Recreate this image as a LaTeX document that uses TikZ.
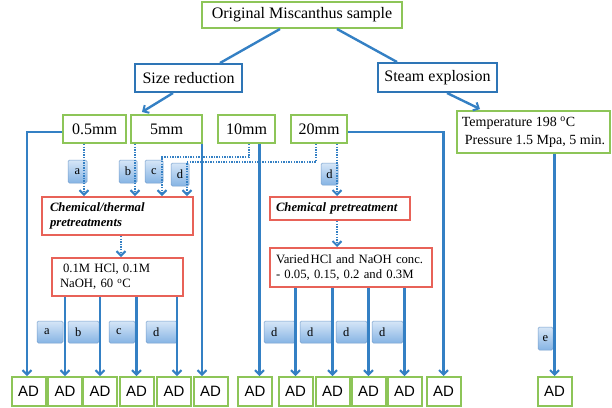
\documentclass[tikz,border=0pt]{standalone}
\usepackage{fontspec}
\setmainfont{Liberation Serif}
\newfontfamily\adfont{Liberation Sans}
\usetikzlibrary{arrows.meta}
\definecolor{gr}{RGB}{141,197,88}
\definecolor{bl}{RGB}{52,128,196}
\definecolor{bbox}{RGB}{46,117,182}
\definecolor{rd}{RGB}{232,98,88}
\definecolor{lbtop}{RGB}{214,230,247}
\definecolor{lbbot}{RGB}{134,180,228}
\definecolor{lbdraw}{RGB}{120,160,205}
\begin{document}
\begin{tikzpicture}[x=1pt,y=-1pt,
  gbox/.style={draw=gr, line width=2pt, fill=white, inner sep=0pt, font=\fontsize{16}{18}\selectfont},
  bbx/.style={draw=bbox, line width=2pt, fill=white, inner sep=0pt, font=\fontsize{16}{18}\selectfont},
  rbox/.style={draw=rd, line width=2pt, fill=white, inner ysep=0pt, align=left},
  adbox/.style={draw=gr, line width=2pt, fill=white, minimum width=34pt, minimum height=29pt, inner sep=0pt, font=\adfont\fontsize{15}{17}\selectfont},
  lab/.style={draw=lbdraw, line width=0.5pt, top color=lbtop, bottom color=lbbot, rounded corners=1.5pt, inner sep=0pt, font=\fontsize{12.5}{14}\selectfont},
  blab/.style={lab, align=left, inner xsep=7pt, text width=#1, minimum height=22pt},
  sline/.style={draw=bl, line width=2.4pt},
  arr/.style={sline, -{Straight Barb[length=4.5pt,width=9pt,line width=2pt]}},
  dline/.style={draw=bl, line width=2.4pt, dash pattern=on 1.4pt off 1.2pt},
  darr/.style={dline, -{Straight Barb[length=4.5pt,width=9pt,line width=2pt]}}
]
\useasboundingbox (0,0) rectangle (612,407);

% top nodes
\node[gbox, minimum width=200pt, minimum height=26pt] (orig) at (302,15) {Original Miscanthus sample};
\node[bbx, minimum width=107pt, minimum height=28pt] (size) at (188.5,78) {Size reduction};
\node[bbx, minimum width=119pt, minimum height=29pt] (steam) at (437.5,77.5) {Steam explosion};
\node[gbox, minimum width=63pt, minimum height=28pt] (mm05) at (94.5,129) {0.5mm};
\node[gbox, minimum width=71pt, minimum height=28pt] (mm5) at (166.5,129) {5mm};
\node[gbox, minimum width=57pt, minimum height=28pt] (mm10) at (246.5,129) {10mm};
\node[gbox, minimum width=56pt, minimum height=28pt] (mm20) at (319,129) {20mm};
\node[gbox, minimum width=153pt, minimum height=42pt, align=left, inner xsep=3pt, font=\fontsize{14}{17.5}\selectfont] (temp) at (533.5,132) {Temperature 198 \textsuperscript{o}C\\\hspace{3pt}Pressure 1.5 Mpa, 5 min.};

% red boxes
\node[rbox, minimum width=151pt, minimum height=38pt, text width=135pt, inner xsep=8pt, font=\fontsize{12.7}{15}\selectfont\bfseries\itshape] (chemth) at (117.5,216) {Chemical/thermal\\pretreatments};
\node[rbox, minimum width=140pt, minimum height=23pt, text width=128pt, inner xsep=6pt, font=\fontsize{12.7}{15}\selectfont\bfseries\itshape] (chemp) at (340,208.5) {Chemical pretreatment};
\node[rbox, minimum width=131pt, minimum height=38pt, text width=115pt, inner xsep=8pt, font=\fontsize{12.7}{15}\selectfont] (hcl) at (117.5,277) {\hspace{3pt}0.1M HCl, 0.1M\\NaOH, 60 \textsuperscript{o}C};
\node[rbox, minimum width=162pt, minimum height=39pt, text width=150pt, inner xsep=6pt, font=\fontsize{12.7}{15}\selectfont] (varied) at (351,267.5) {Varied\hspace{1.5pt}HCl and NaOH conc.\\- 0.05, 0.15, 0.2 and 0.3M};

% AD boxes
\foreach \i/\x in {1/28.5,2/65,3/100,4/136.5,5/174,6/210.5,7/255,8/295.5,9/332.5,10/368.5,11/404.5,12/443.5,13/554.5}
  \node[adbox] (ad\i) at (\x,391.5) {AD};

% labels top
\node[lab, minimum width=19pt, minimum height=23pt] (la) at (77.5,171.5) {a};
\node[lab, minimum width=18pt, minimum height=23pt] (lb) at (128,171.5) {b};
\node[lab, minimum width=18pt, minimum height=23pt] (lc) at (154,171.5) {c};
\node[lab, minimum width=18pt, minimum height=23pt] (ld) at (180,174.5) {d};
\node[lab, minimum width=17pt, minimum height=22pt] (ld20) at (329.5,174) {d};
% labels bottom
\node[blab=12pt] (ba) at (50,332) {a};
\node[blab=17pt] (bb) at (83.5,332) {b};
\node[blab=12pt] (bc) at (122,332) {c};
\node[blab=17pt] (bd) at (161.5,332) {d};
\node[blab=17pt] (bd1) at (279.5,332) {d};
\node[blab=18pt] (bd2) at (316,332) {d};
\node[blab=17pt] (bd3) at (351.5,332) {d};
\node[blab=17pt] (bd4) at (387.5,332) {d};
\node[lab, minimum width=15pt, minimum height=23pt] (le) at (545.5,338.5) {e};

% top connectors
\draw[sline] ([xshift=-22pt]orig.south) -- ([xshift=31.5pt]size.north);
\draw[sline] ([xshift=35pt]orig.south) -- ([xshift=-40.5pt]steam.north);
\draw[arr] ([xshift=-15.5pt]size.south) -- ([xshift=-24.5pt,yshift=2pt]mm5.north);
\draw[arr] ([xshift=9.5pt]steam.south) -- ([xshift=-53.5pt,yshift=1pt]temp.north);

% solid direct lines
\draw[arr] ([yshift=-3pt]mm05.west) -| ([xshift=-1.5pt]ad1.north);
\draw[arr] ([xshift=-1pt]mm5.south east) -- ([xshift=-1pt]mm5.south east |- ad6.north);
\draw[arr] ([xshift=13pt]mm10.south) -- ([xshift=13pt]mm10.south |- ad7.north);
\draw[arr] ([yshift=-3pt]mm20.east) -| (ad12.north);
\draw[arr] (temp.south -| ad13.north) -- (ad13.north);

% dotted lines
\draw[darr] ([xshift=-10.5pt]mm05.south) -- ([xshift=-10.5pt]mm05.south |- chemth.north);
\draw[darr] ([xshift=-31.5pt]mm5.south) -- ([xshift=-31.5pt]mm5.south |- chemth.north);
\coordinate (cx) at (162,157);
\coordinate (dx) at (187,162);
\draw[darr] ([xshift=2.5pt]mm10.south) |- (cx) -- (cx |- chemth.north);
\draw[darr] ([xshift=-3pt]mm20.south) |- (dx) -- (dx |- chemth.north);
\draw[darr] ([xshift=18pt]mm20.south) -- ([xshift=18pt]mm20.south |- chemp.north);
\draw[darr] ([xshift=3.5pt]chemth.south) -- ([xshift=3.5pt]chemth.south |- hcl.north);
\draw[darr] ([xshift=-3pt]chemp.south) -- ([xshift=-3pt]chemp.south |- varied.north);

% bottom lines
\coordinate (x5) at (177,0);
\draw[arr] (hcl.south -| ad2.north) -- (ad2.north);
\draw[arr] (hcl.south -| ad3.north) -- (ad3.north);
\draw[arr] (hcl.south -| ad4.north) -- (ad4.north);
\draw[arr] (hcl.south -| x5) -- (x5 |- ad5.north);
\draw[arr] (varied.south -| ad8.north) -- (ad8.north);
\draw[arr] (varied.south -| ad9.north) -- (ad9.north);
\draw[arr] (varied.south -| ad10.north) -- (ad10.north);
\draw[arr] (varied.south -| ad11.north) -- (ad11.north);
\end{tikzpicture}
\end{document}
